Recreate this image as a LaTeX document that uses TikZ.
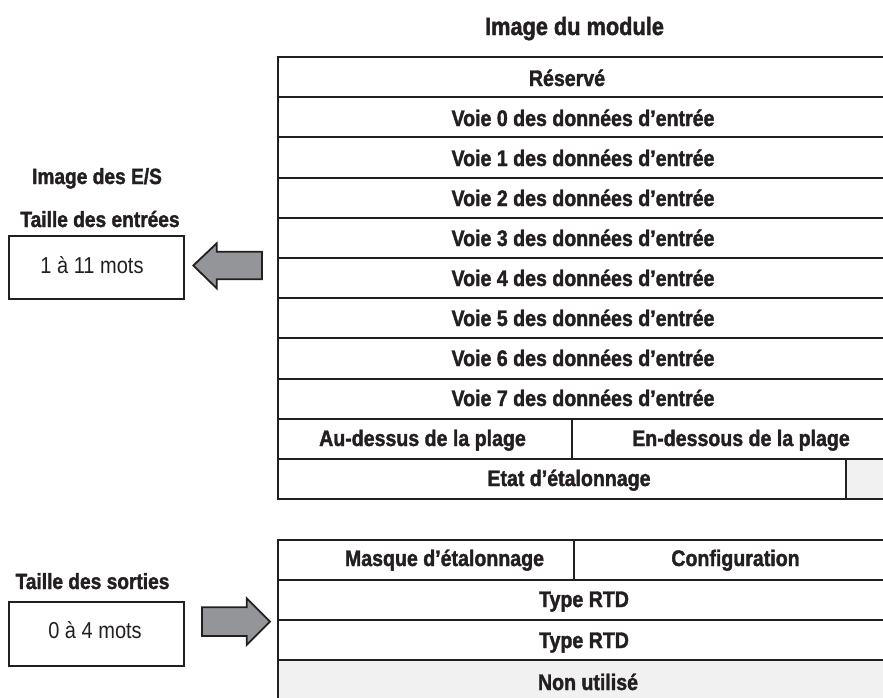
\documentclass[tikz,border=0pt]{standalone}
\usepackage{fontspec}
\setmainfont{Liberation Sans}[FakeStretch=0.87,BoldFeatures={FakeBold=1.6}]
\definecolor{ink}{HTML}{231F20}
\definecolor{arrowgray}{HTML}{939598}
\definecolor{cellgray}{HTML}{F1F1F2}

\begin{document}
\begin{tikzpicture}[x=1pt,y=-1pt,color=ink,line width=2pt,
    heading/.style={font=\fontsize{22}{26}\selectfont\bfseries,anchor=base},
    cell/.style={font=\fontsize{22.5}{27}\selectfont\bfseries,anchor=base},
    words/.style={font=\fontsize{23}{27}\selectfont,anchor=base},
    blockarrow/.style={fill=arrowgray,draw=ink,line width=1.8pt,line join=miter}]

    \clip (0,0) rectangle (883,697);

    % module image, inputs
    \node[heading,font=\fontsize{25}{30}\selectfont\bfseries] (modtitle) at (574.5,35) {Image du module};
    \draw (278,57) rectangle (890,97.2);
    \node[cell] (reserve) at (567,86) {Réservé};
    \foreach \i in {0,...,7} {
        \draw (278,{97.2+40.2*\i}) rectangle (890,{137.4+40.2*\i});
        \node[cell] (voie\i) at (583,{126+40*\i}) {Voie \i\ des données d’entrée};
    }
    \draw (278,418.8) rectangle (890,459); % over/under range
    \draw (572,418.8) -- (572,459);
    \node[cell] (over) at (422.5,446) {Au-dessus de la plage};
    \node[cell] (under) at (741,446) {En-dessous de la plage};
    \fill[cellgray] (846,459) rectangle (890,499.2);
    \draw (278,459) rectangle (890,499.2);
    \draw (846,459) -- (846,499.2);
    \node[cell] (calstat) at (569,486) {Etat d’étalonnage};

    % module image, outputs
    \draw (278,540) rectangle (890,580);
    \draw (574,540) -- (574,580);
    \node[cell] (calmask) at (444.5,566) {Masque d’étalonnage};
    \node[cell] (config) at (735.5,566) {Configuration};
    \draw (278,580) rectangle (890,620);
    \node[cell] (rtda) at (584,607) {Type RTD};
    \draw (278,620) rectangle (890,660);
    \node[cell] (rtdb) at (584,648) {Type RTD};
    \fill[cellgray] (278,660) rectangle (890,710);
    \draw (278,660) rectangle (890,710);
    \node[cell] (unused) at (588,690) {Non utilisé};

    % I/O image
    \node[heading] (iotitle) at (97,184) {Image des E/S};
    \node[heading] (insize) at (100,227) {Taille des entrées};
    \draw (9,236) rectangle (184,299);
    \node[words] (inwords) at (92,273) {1 à 11 mots};
    \draw[blockarrow] (262,251.7) -- (216.7,251.7) -- (216.7,243.3) -- (193.3,265.5)
        -- (216.7,288.3) -- (216.7,279.3) -- (262,279.3) -- cycle; % module -> inputs

    \node[heading] (outsize) at (92.5,589) {Taille des sorties};
    \draw (9,602) rectangle (184,666);
    \node[words] (outwords) at (95,638) {0 à 4 mots};
    \draw[blockarrow] (202,607.3) -- (246.7,607.3) -- (246.7,598.3) -- (270,621.7)
        -- (246.7,645) -- (246.7,636) -- (202,636) -- cycle; % outputs -> module

\end{tikzpicture}
\end{document}
